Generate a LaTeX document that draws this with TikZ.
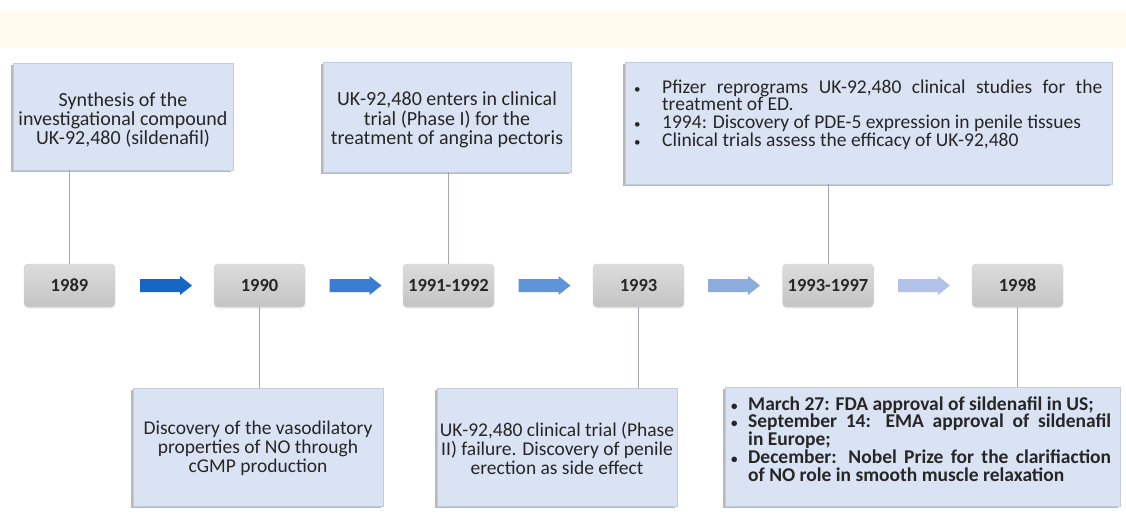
\documentclass[tikz,border=0pt]{standalone}
\usepackage{fontspec}
\setmainfont{Carlito}
\usetikzlibrary{shadows}
\definecolor{bandcol}{HTML}{FFFCEF}
\definecolor{boxfill}{HTML}{DAE3F3}
\definecolor{boxline}{HTML}{C3CCDB}
\definecolor{conncol}{HTML}{A0A8B4}
\definecolor{txtcol}{HTML}{262626}
\definecolor{yeartop}{HTML}{DCDCDC}
\definecolor{yearbot}{HTML}{C4C4C4}
\definecolor{arA}{HTML}{1666C4}
\definecolor{arB}{HTML}{3A7CD2}
\definecolor{arC}{HTML}{6094D8}
\definecolor{arD}{HTML}{8CACDE}
\definecolor{arE}{HTML}{B2C2E8}
\newcommand\topfnt{\fontsize{20}{19.3}\selectfont\lineskiplimit-20pt\relax}
\newcommand\botfnt{\fontsize{19.5}{19}\selectfont\lineskiplimit-20pt\relax}
\newcommand\lstfnt{\fontsize{19.5}{17.8}\selectfont\lineskiplimit-20pt\relax}
\newcommand\smallbullet{{\fontsize{13}{13}\selectfont\textbullet}}
\newcommand\bitem[2]{\noindent\hangindent#1\relax\hangafter1\relax\makebox[#1][l]{\smallbullet}#2}
\newcommand\blockarrow[2]{\fill[#2,shift={(#1)}] (-26,-6.5) -- (14,-6.5) -- (14,-9.5) -- (26,0) -- (14,9.5) -- (14,6.5) -- (-26,6.5) -- cycle;}
\tikzset{
  infobox/.style={draw=boxline, line width=0.6pt, fill=boxfill, inner sep=0pt,
    drop shadow={shadow xshift=-2pt, shadow yshift=-2pt, fill=black, opacity=0.28}},
  ctext/.style={inner sep=0pt, text=txtcol, align=center},
  boxtext/.style={inner sep=0pt, text=txtcol, font=\lstfnt, align=justify},
  yearbox/.style={rounded corners=4pt, top color=yeartop, bottom color=yearbot,
    draw=black!18, line width=0.4pt, minimum width=91pt, minimum height=43pt,
    inner sep=0pt, text=txtcol, font=\bfseries\fontsize{18.5}{20}\selectfont,
    drop shadow={shadow xshift=0pt, shadow yshift=-1.5pt, opacity=0.15}},
  conn/.style={draw=conncol, line width=1pt},
}
\begin{document}
\begin{tikzpicture}[x=1pt,y=-1pt]
\useasboundingbox (0,0) rectangle (1126,515);
\fill[white] (0,0) rectangle (1126,515);
\fill[bandcol] (0,11) rectangle (1126,47);

% year nodes
\node[yearbox] (y1) at (69.5,285.5) {1989};
\node[yearbox] (y2) at (259.5,285.5) {1990};
\node[yearbox] (y3) at (448.5,285.5) {1991-1992};
\node[yearbox] (y4) at (638.5,285.5) {1993};
\node[yearbox] (y5) at (828,285.5) {1993-1997};
\node[yearbox] (y6) at (1017.5,285.5) {1998};

% block arrows
\coordinate (a1) at (166,285.5);
\coordinate (a2) at (355.5,285.5);
\coordinate (a3) at (544.5,285.5);
\coordinate (a4) at (734,285.5);
\coordinate (a5) at (924,285.5);
\blockarrow{a1}{arA}
\blockarrow{a2}{arB}
\blockarrow{a3}{arC}
\blockarrow{a4}{arD}
\blockarrow{a5}{arE}

% top boxes
\node[infobox, minimum width=220, minimum height=107] (t1) at (123,116.5) {};
\node[ctext, font=\topfnt, yshift=-3.5pt] (t1text) at (t1.center)
  {Synthesis of the\\investigational compound\\UK-92,480 (sildenafil)};
\node[infobox, minimum width=248, minimum height=110] (t2) at (447,117) {};
\node[ctext, font=\topfnt, yshift=-3pt] (t2text) at (t2.center)
  {UK-92,480 enters in clinical\\trial (Phase I) for the\\treatment of angina pectoris};
\node[infobox, minimum width=487, minimum height=122] (t3) at (868.5,123) {};
\node[boxtext, text width=468, anchor=base west] (t3text) at (634,93)
  {\bitem{28pt}{Pfizer reprograms UK-92,480 clinical studies for the\linebreak treatment of ED.}\par
   \bitem{28pt}{1994: Discovery of PDE-5 expression in penile tissues}\par
   \bitem{28pt}{Clinical trials assess the efficacy of UK-92,480}\par};

% bottom boxes
\node[infobox, minimum width=250, minimum height=118] (b1) at (258,447) {};
\node[ctext, font=\botfnt, yshift=-1.5pt] (b1text) at (b1.center)
  {Discovery of the vasodilatory\\properties of NO through\\cGMP production};
\node[infobox, minimum width=240, minimum height=118] (b2) at (557,447) {};
\node[ctext, font=\botfnt, yshift=-1.5pt] (b2text) at (b2.center)
  {UK-92,480 clinical trial (Phase\\II) failure. Discovery of penile\\erection as side effect};
\node[infobox, minimum width=395, minimum height=119] (b3) at (922.5,446.5) {};
\node[boxtext, font=\lstfnt\bfseries, text width=380, anchor=base west] (b3text) at (731,410)
  {\bitem{17pt}{March 27: FDA approval of sildenafil in US;}\par
   \bitem{17pt}{September 14: EMA approval of sildenafil\linebreak in Europe;}\par
   \bitem{17pt}{December: Nobel Prize for the clarifiaction\linebreak of NO role in smooth muscle relaxation}\par};

% connectors
\draw[conn] (t1.south -| y1.north) -- (y1.north);
\draw[conn] (t2.south -| y3.north) -- (y3.north);
\draw[conn] (t3.south -| y5.north) -- (y5.north);
\draw[conn] (y2.south) -- (y2.south |- b1.north);
\draw[conn] (y4.south) -- (y4.south |- b2.north);
\draw[conn] (y6.south) -- (y6.south |- b3.north);
\end{tikzpicture}
\end{document}
